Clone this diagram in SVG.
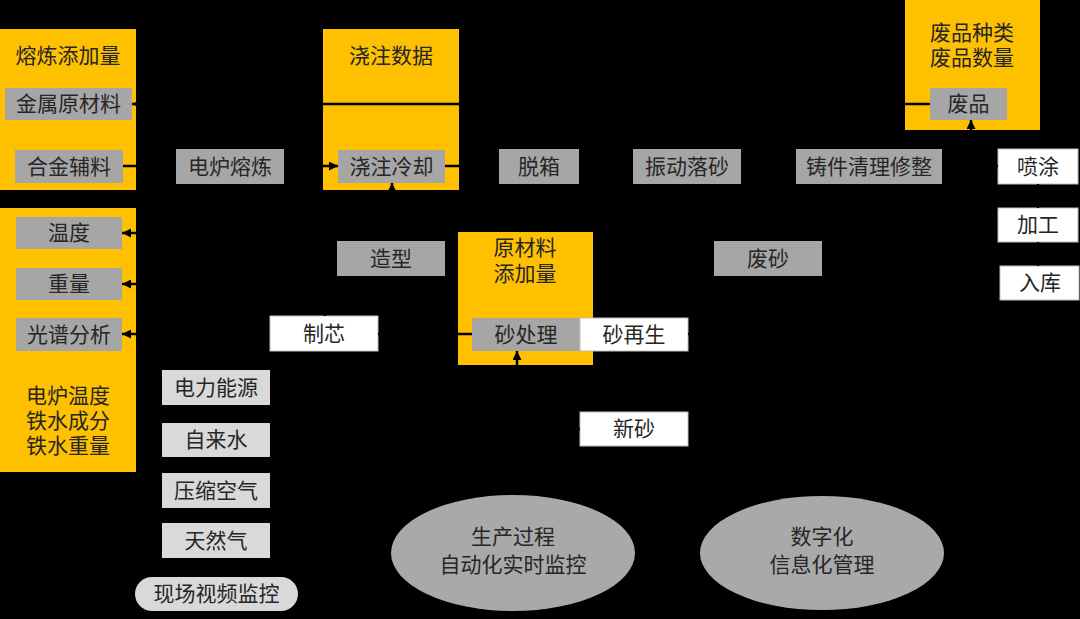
<svg xmlns="http://www.w3.org/2000/svg" width="1080" height="619" viewBox="0 0 1080 619">
<style>
text{font-family:"Noto Sans CJK SC","Noto Sans",sans-serif;font-size:21px;fill:#262626;text-anchor:middle}
.y{fill:#FFC000}
.g{fill:#A6A6A6}
.w{fill:#FFFFFF;stroke:#BFBFBF;stroke-width:1}
.l{fill:#D9D9D9}
.e{fill:#A9A9A9}
.c{fill:none;stroke:#000;stroke-width:2.5}
</style>
<defs>
<marker id="ah" viewBox="0 0 10 10" refX="10" refY="5" markerWidth="9" markerHeight="9" markerUnits="userSpaceOnUse" orient="auto">
<path d="M0,0 L10,5 L0,10 z" fill="#000"/>
</marker>
</defs>
<rect x="0" y="0" width="1080" height="619" fill="#000"/>

<g id="smelt-add">
<rect class="y" x="0" y="29" width="136" height="161"/>
<text x="68" y="63">熔炼添加量</text>
</g>
<g id="metal-raw"><rect class="g" x="5" y="88" width="127" height="32"/><text x="68.5" y="111">金属原材料</text></g>
<g id="alloy"><rect class="g" x="15" y="150" width="108" height="33"/><text x="69" y="174">合金辅料</text></g>
<g id="furnace"><rect class="g" x="176" y="149" width="108" height="35"/><text x="230" y="174">电炉熔炼</text></g>

<g id="pour-data">
<rect class="y" x="323" y="29" width="136" height="161"/>
<text x="391" y="63">浇注数据</text>
</g>
<g id="pour-cool"><rect class="g" x="338" y="150" width="107" height="33"/><text x="391.5" y="174">浇注冷却</text></g>
<g id="shakeout"><rect class="g" x="499" y="149" width="80" height="35"/><text x="539" y="174">脱箱</text></g>
<g id="vibrate"><rect class="g" x="633" y="149" width="108" height="35"/><text x="687" y="174">振动落砂</text></g>
<g id="clean"><rect class="g" x="796" y="149" width="146" height="35"/><text x="869" y="174">铸件清理修整</text></g>

<g id="waste-data">
<rect class="y" x="905" y="0" width="135" height="130"/>
<text x="972" y="40">废品种类</text>
<text x="972" y="65">废品数量</text>
</g>
<g id="waste"><rect class="g" x="930" y="88" width="77" height="32"/><text x="968.5" y="111">废品</text></g>

<g id="spray"><rect class="w" x="998" y="149" width="80" height="35"/><text x="1038" y="174">喷涂</text></g>
<g id="machining"><rect class="w" x="998" y="208" width="80" height="34"/><text x="1038" y="232">加工</text></g>
<g id="storage"><rect class="w" x="1000" y="266" width="79" height="34"/><text x="1040" y="290">入库</text></g>

<g id="furnace-data">
<rect class="y" x="0" y="208" width="136" height="264"/>
<text x="68" y="403">电炉温度</text>
<text x="68" y="428">铁水成分</text>
<text x="68" y="453">铁水重量</text>
</g>
<g id="temp"><rect class="g" x="16" y="217" width="106" height="32"/><text x="69" y="240">温度</text></g>
<g id="weight"><rect class="g" x="16" y="268" width="106" height="32"/><text x="69" y="291">重量</text></g>
<g id="spectrum"><rect class="g" x="16" y="318" width="106" height="33"/><text x="69" y="342">光谱分析</text></g>

<g id="molding"><rect class="g" x="337" y="241" width="108" height="35"/><text x="391" y="266">造型</text></g>
<g id="core"><rect class="w" x="270" y="316" width="108" height="35"/><text x="324" y="341">制芯</text></g>

<g id="sand-add">
<rect class="y" x="458" y="232" width="135" height="133"/>
<text x="525" y="255">原材料</text>
<text x="525" y="281">添加量</text>
</g>
<g id="sand-proc"><rect class="g" x="472" y="318" width="108" height="33"/><text x="526" y="342">砂处理</text></g>
<g id="sand-regen"><rect class="w" x="580" y="318" width="108" height="33"/><text x="634" y="342">砂再生</text></g>
<g id="new-sand"><rect class="w" x="580" y="412" width="108" height="34"/><text x="634" y="436">新砂</text></g>
<g id="waste-sand"><rect class="g" x="714" y="241" width="108" height="35"/><text x="768" y="266">废砂</text></g>

<g id="power"><rect class="l" x="162" y="370" width="108" height="35"/><text x="216" y="395">电力能源</text></g>
<g id="water"><rect class="l" x="162" y="423" width="108" height="34"/><text x="216" y="447">自来水</text></g>
<g id="air"><rect class="l" x="162" y="473" width="108" height="35"/><text x="216" y="498">压缩空气</text></g>
<g id="gas"><rect class="l" x="162" y="523" width="108" height="35"/><text x="216" y="548">天然气</text></g>
<g id="video"><rect class="l" x="135" y="577" width="163" height="34" rx="17" ry="17"/><text x="216.5" y="601">现场视频监控</text></g>

<g id="auto-monitor">
<ellipse class="e" cx="513" cy="553" rx="122" ry="58"/>
<text x="513" y="544">生产过程</text>
<text x="513" y="572">自动化实时监控</text>
</g>
<g id="digital-mgmt">
<ellipse class="e" cx="822" cy="553" rx="122" ry="57"/>
<text x="822" y="544">数字化</text>
<text x="822" y="572">信息化管理</text>
</g>

<g id="connectors">
<path class="c" d="M930 104 H132" marker-end="url(#ah)"/>
<path class="c" d="M123 166 H176" marker-end="url(#ah)"/>
<path class="c" d="M284 166 H338" marker-end="url(#ah)"/>
<path class="c" d="M445 166 H499" marker-end="url(#ah)"/>
<path class="c" d="M579 166 H633" marker-end="url(#ah)"/>
<path class="c" d="M741 166 H796" marker-end="url(#ah)"/>
<path class="c" d="M942 166 H998" marker-end="url(#ah)"/>
<path class="c" d="M1038 184 V208" marker-end="url(#ah)"/>
<path class="c" d="M1038 242 V266" marker-end="url(#ah)"/>
<path class="c" d="M869 149 V140 H971 V120" marker-end="url(#ah)"/>
<path class="c" d="M230 184 V233 H122" marker-end="url(#ah)"/>
<path class="c" d="M230 233 V284 H122" marker-end="url(#ah)"/>
<path class="c" d="M230 284 V334 H122" marker-end="url(#ah)"/>
<path class="c" d="M392 241 V183" marker-end="url(#ah)"/>
<path class="c" d="M325 316 V258 H337" marker-end="url(#ah)"/>
<path class="c" d="M472 334 H378" marker-end="url(#ah)"/>
<path class="c" d="M580 429 H517 V351" marker-end="url(#ah)"/>
<path class="c" d="M768 166 V241" marker-end="url(#ah)"/>
<path class="c" d="M768 276 V334 H688" marker-end="url(#ah)"/>
</g>
</svg>
